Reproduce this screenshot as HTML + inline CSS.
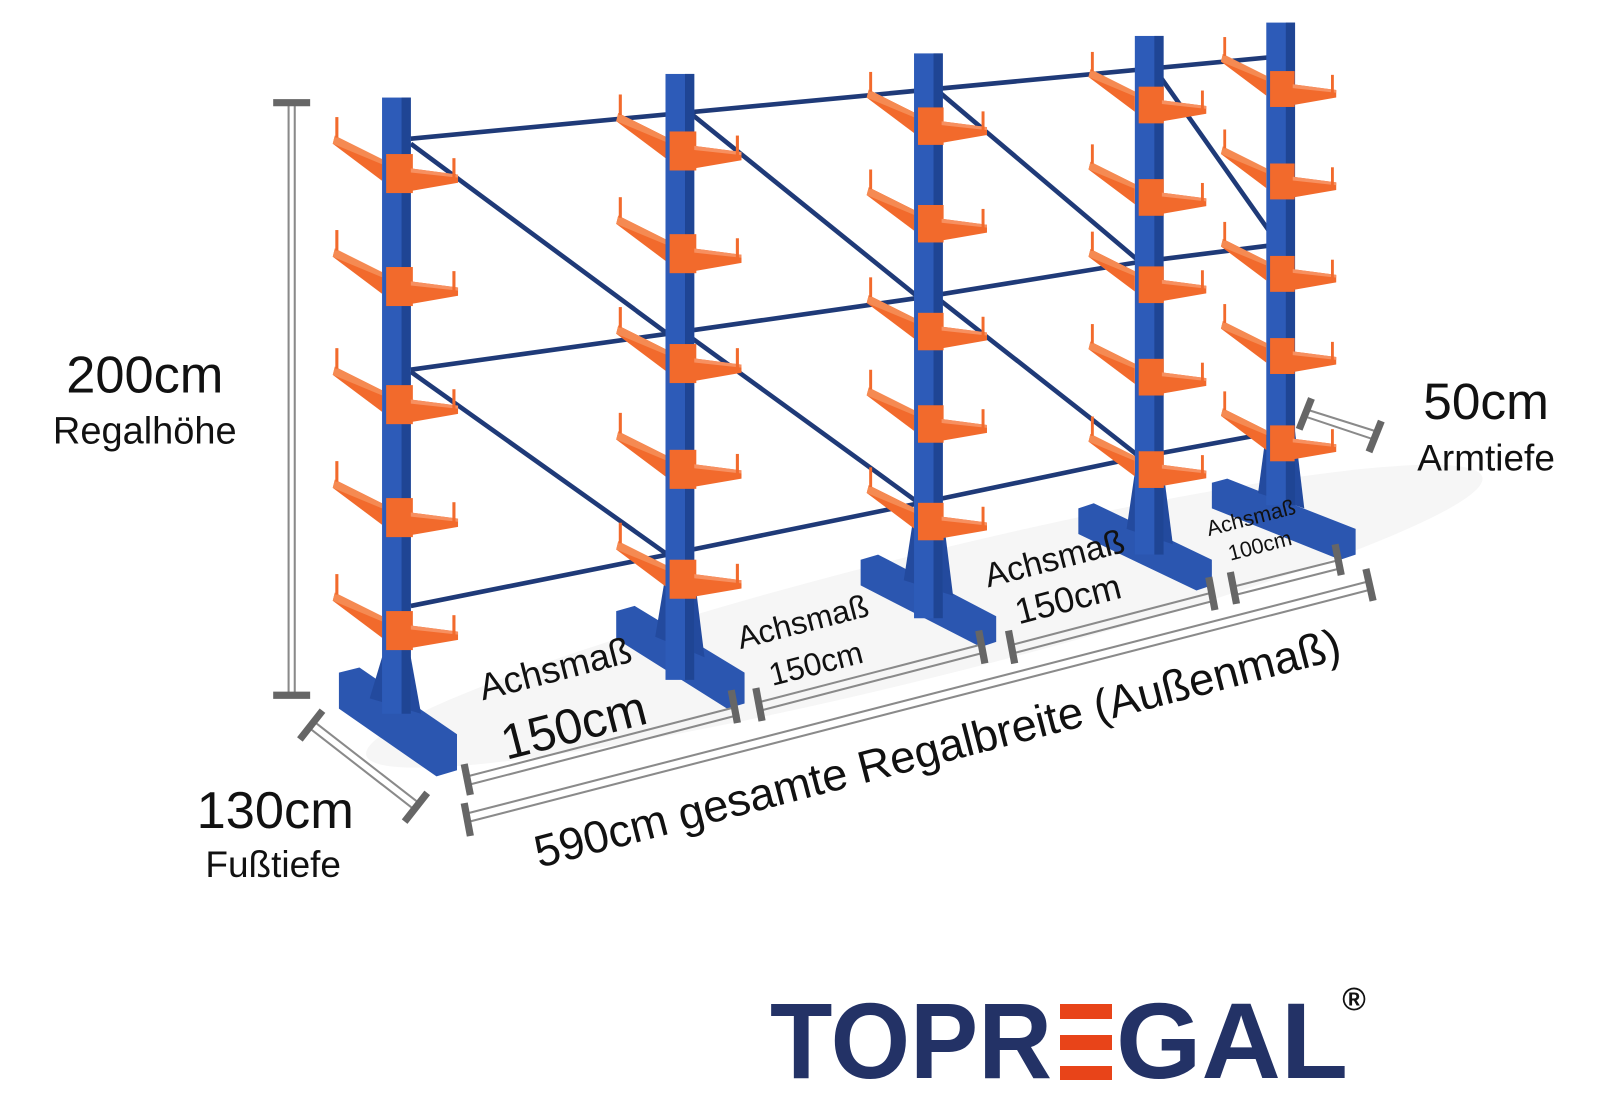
<!DOCTYPE html>
<html><head><meta charset="utf-8"><style>
html,body{margin:0;padding:0;background:#fff;}
svg{display:block;}
text{font-family:"Liberation Sans",sans-serif;}
</style></head><body>
<svg width="1600" height="1100" viewBox="0 0 1600 1100" xmlns="http://www.w3.org/2000/svg">
<defs>
<g id="arm">
  <polygon points="0,15 -46,-8 -48,0 0,36" fill="#f26a2c"/>
  <polygon points="-48,0 -46,-8 0,15 0,20" fill="#f58a52"/>
  <line x1="-44" y1="-26" x2="-44" y2="-6" stroke="#f26a2c" stroke-width="3"/>
  <rect x="4" y="10" width="26" height="38" fill="#f26a2c"/>
  <polygon points="28,24 74,30 74,38 28,46" fill="#f26a2c"/>
  <polygon points="28,24 74,30 74,33 28,28" fill="#f79060"/>
  <line x1="70" y1="14" x2="70" y2="34" stroke="#f26a2c" stroke-width="3"/>
</g>
</defs>
<g transform="scale(1.027)">
<ellipse cx="900" cy="600" rx="560" ry="60" fill="#f6f6f6" transform="rotate(-14 900 600)"/>
<g stroke="#1f3a78" stroke-width="4.5" fill="none">
<line x1="400" y1="135" x2="1245" y2="55"/>
<polyline points="400,360 650,325 895,290 1110,255 1245,238"/>
<polyline points="400,590 650,540 895,490 1110,445 1245,420"/>
<line x1="400" y1="140" x2="650" y2="325"/>
<line x1="400" y1="362" x2="650" y2="540"/>
<line x1="672" y1="110" x2="895" y2="290"/>
<line x1="672" y1="328" x2="895" y2="490"/>
<line x1="915" y1="90" x2="1110" y2="255"/>
<line x1="915" y1="292" x2="1110" y2="445"/>
<line x1="1130" y1="75" x2="1245" y2="238"/>
</g>
<g>
<polygon points="1180,470 1195,466 1320,515 1320,540 1305,545 1180,495" fill="#2b56b0"/>
<polygon points="1050,495 1065,490 1180,545 1180,570 1165,575 1050,520" fill="#2b56b0"/>
<polygon points="838,545 855,540 970,600 970,625 955,630 838,570" fill="#2b56b0"/>
<polygon points="600,595 618,590 725,655 725,685 708,690 600,622" fill="#2b56b0"/>
<polygon points="330,655 350,650 445,715 445,750 425,756 330,690" fill="#2b56b0"/>
<polygon points="372,640 400,640 410,695 360,680" fill="#234a9e"/>
<polygon points="648,560 676,560 686,640 638,620" fill="#234a9e"/>
<polygon points="890,500 918,500 928,580 880,565" fill="#234a9e"/>
<polygon points="1105,460 1133,460 1142,530 1097,515" fill="#234a9e"/>
<polygon points="1233,420 1261,420 1270,495 1225,480" fill="#234a9e"/>
</g>
<g>
<rect x="1233" y="22" width="28" height="470" fill="#2d5bb8"/><rect x="1252" y="22" width="9" height="470" fill="#1f4594"/>
<rect x="1105" y="35" width="28" height="505" fill="#2d5bb8"/><rect x="1124" y="35" width="9" height="505" fill="#1f4594"/>
<rect x="890" y="52" width="28" height="550" fill="#2d5bb8"/><rect x="909" y="52" width="9" height="550" fill="#1f4594"/>
<rect x="648" y="72" width="28" height="590" fill="#2d5bb8"/><rect x="667" y="72" width="9" height="590" fill="#1f4594"/>
<rect x="372" y="95" width="28" height="600" fill="#2d5bb8"/><rect x="391" y="95" width="9" height="600" fill="#1f4594"/>
</g>
<g>
<use href="#arm" transform="translate(1233,60) scale(0.92)"/><use href="#arm" transform="translate(1233,150) scale(0.92)"/><use href="#arm" transform="translate(1233,240) scale(0.92)"/><use href="#arm" transform="translate(1233,320) scale(0.92)"/><use href="#arm" transform="translate(1233,405) scale(0.92)"/>
<use href="#arm" transform="translate(1105,75) scale(0.94)"/><use href="#arm" transform="translate(1105,165) scale(0.94)"/><use href="#arm" transform="translate(1105,250) scale(0.94)"/><use href="#arm" transform="translate(1105,340) scale(0.94)"/><use href="#arm" transform="translate(1105,430) scale(0.94)"/>
<use href="#arm" transform="translate(890,95) scale(0.96)"/><use href="#arm" transform="translate(890,190) scale(0.96)"/><use href="#arm" transform="translate(890,295) scale(0.96)"/><use href="#arm" transform="translate(890,385) scale(0.96)"/><use href="#arm" transform="translate(890,480) scale(0.96)"/>
<use href="#arm" transform="translate(648,118)"/><use href="#arm" transform="translate(648,218)"/><use href="#arm" transform="translate(648,325)"/><use href="#arm" transform="translate(648,428)"/><use href="#arm" transform="translate(648,535)"/>
<use href="#arm" transform="translate(372,140)"/><use href="#arm" transform="translate(372,250)"/><use href="#arm" transform="translate(372,365)"/><use href="#arm" transform="translate(372,475)"/><use href="#arm" transform="translate(372,585)"/>
</g>
<line x1="281" y1="100" x2="281" y2="677" stroke="#8a8a8a" stroke-width="2"/>
<line x1="287" y1="100" x2="287" y2="677" stroke="#8a8a8a" stroke-width="2"/>
<line x1="266" y1="100" x2="302" y2="100" stroke="#666" stroke-width="7"/>
<line x1="266" y1="677" x2="302" y2="677" stroke="#666" stroke-width="7"/>
<line x1="300" y1="708" x2="403" y2="788" stroke="#8a8a8a" stroke-width="2"/>
<line x1="305" y1="702" x2="408" y2="782" stroke="#8a8a8a" stroke-width="2"/>
<line x1="292" y1="720" x2="314" y2="692" stroke="#666" stroke-width="7"/>
<line x1="394" y1="800" x2="416" y2="772" stroke="#666" stroke-width="7"/>
<line x1="1270" y1="398" x2="1340" y2="420" stroke="#8a8a8a" stroke-width="2"/>
<line x1="1272" y1="406" x2="1338" y2="428" stroke="#8a8a8a" stroke-width="2"/>
<line x1="1265" y1="418" x2="1277" y2="388" stroke="#666" stroke-width="7"/>
<line x1="1333" y1="440" x2="1345" y2="410" stroke="#666" stroke-width="7"/>
<g stroke="#8a8a8a" stroke-width="2">
<line x1="455" y1="792" x2="1333" y2="566"/><line x1="457" y1="800" x2="1335" y2="574"/>
<line x1="455" y1="756" x2="718" y2="688"/><line x1="457" y1="764" x2="720" y2="696"/>
<line x1="738" y1="684" x2="958" y2="627"/><line x1="740" y1="692" x2="960" y2="635"/>
<line x1="985" y1="628" x2="1180" y2="577"/><line x1="987" y1="636" x2="1182" y2="585"/>
<line x1="1202" y1="571" x2="1305" y2="545"/><line x1="1204" y1="579" x2="1307" y2="553"/>
</g>
<g stroke="#666" stroke-width="7">
<line x1="452" y1="782" x2="458" y2="814"/><line x1="1330" y1="554" x2="1337" y2="585"/>
<line x1="452" y1="744" x2="458" y2="774"/><line x1="712" y1="672" x2="718" y2="704"/>
<line x1="736" y1="670" x2="742" y2="702"/><line x1="953" y1="614" x2="959" y2="646"/>
<line x1="982" y1="614" x2="988" y2="646"/><line x1="1177" y1="562" x2="1183" y2="594"/>
<line x1="1198" y1="557" x2="1204" y2="588"/><line x1="1300" y1="530" x2="1306" y2="560"/>
</g>
<g style="fill:#111">
<text x="141" y="382" font-size="51" text-anchor="middle">200cm</text>
<text x="141" y="432" font-size="37" text-anchor="middle">Regalhöhe</text>
<text x="268" y="806" font-size="51" text-anchor="middle">130cm</text>
<text x="266" y="854" font-size="36" text-anchor="middle">Fußtiefe</text>
<text x="1447" y="408" font-size="50" text-anchor="middle">50cm</text>
<text x="1447" y="458" font-size="36" text-anchor="middle">Armtiefe</text>
<text transform="translate(470,682) rotate(-14.5)" font-size="36">Achsmaß</text>
<text transform="translate(493,740) rotate(-14.5)" font-size="48">150cm</text>
<text transform="translate(721,632) rotate(-14.5)" font-size="31">Achsmaß</text>
<text transform="translate(752,668) rotate(-14.5)" font-size="31">150cm</text>
<text transform="translate(962,572) rotate(-14.5)" font-size="33">Achsmaß</text>
<text transform="translate(992,608) rotate(-14.5)" font-size="35">150cm</text>
<text transform="translate(1177,522) rotate(-14.5)" font-size="21">Achsmaß</text>
<text transform="translate(1198,546) rotate(-14.5)" font-size="21">100cm</text>
<text transform="translate(525,845) rotate(-14.6)" font-size="44">590cm gesamte Regalbreite (Außenmaß)</text>
</g>
</g>
<text x="770" y="1078" font-size="108" font-weight="bold" style="fill:#233266" textLength="282" lengthAdjust="spacingAndGlyphs">TOPR</text>
<rect x="1060" y="1004" width="52" height="15" fill="#e84419"/>
<rect x="1060" y="1035" width="52" height="15" fill="#e84419"/>
<rect x="1060" y="1066" width="52" height="14" fill="#e84419"/>
<text x="1116" y="1078" font-size="108" font-weight="bold" style="fill:#233266" textLength="232" lengthAdjust="spacingAndGlyphs">GAL</text>
<text x="1354" y="1010" font-size="32" font-weight="bold" style="fill:#111" text-anchor="middle">®</text>
</svg>
</body></html>
